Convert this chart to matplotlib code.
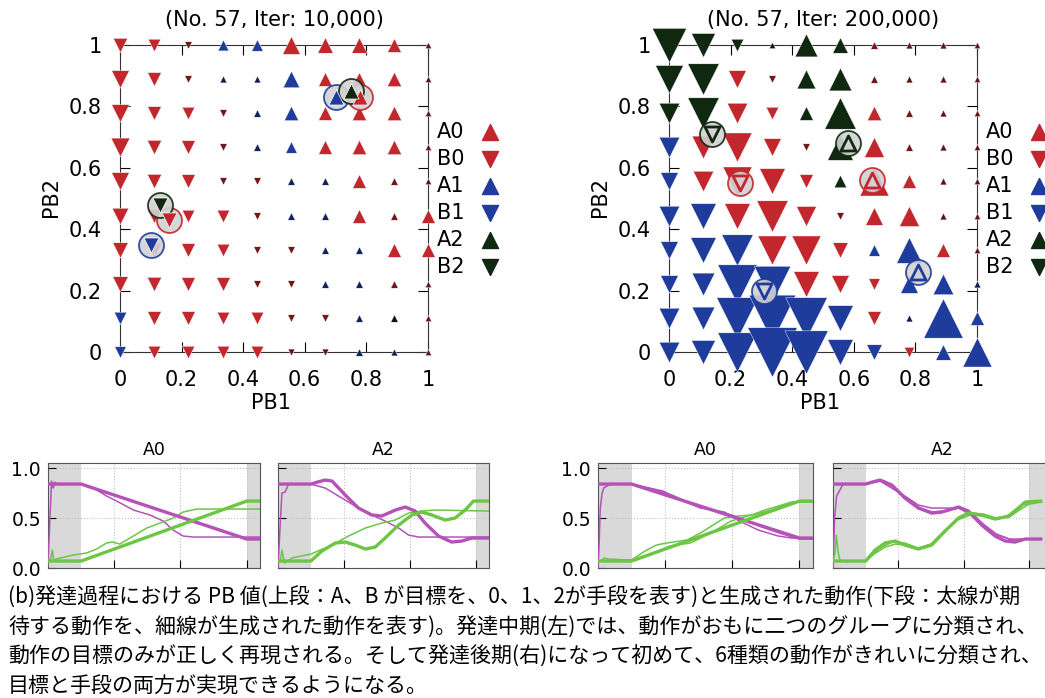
import matplotlib
matplotlib.use('Agg')
import matplotlib.pyplot as plt
import numpy as np
from matplotlib.colors import to_rgb

# grid of PB values (rows listed from PB2=1 down to PB2=0)
pb = np.linspace(0, 1, 10)
classes = ["A0", "B0", "A1", "B1", "A2", "B2"]

left_cls = [
    ["B0", "B0", "B0", "A1", "A1", "A0", "A0", "A0", "A0", "A0"],
    ["B0", "B0", "B0", "A1", "A1", "A1", "A0", "A0", "A0", "A0"],
    ["B0", "B0", "B0", "B0", "A1", "A1", "A0", "A0", "A0", "A0"],
    ["B0", "B0", "B0", "B0", "A1", "A1", "A0", "A0", "A0", "A0"],
    ["B0", "B0", "B0", "B0", "B0", "A1", "A1", "A0", "A0", "A0"],
    ["B0", "B0", "B0", "B0", "B0", "A1", "A1", "A0", "A0", "A0"],
    ["B0", "B0", "B0", "B0", "B0", "B0", "A1", "A1", "A0", "A0"],
    ["B0", "B0", "B0", "B0", "B0", "B0", "A1", "A1", "A0", "A0"],
    ["B1", "B0", "B0", "B0", "B0", "B0", "B0", "A1", "A2", "A0"],
    ["B1", "B0", "B0", "B0", "B0", "B0", "B0", "A1", "A1", "A0"],
]
left_w = [
    [2.5, 2.2, 1.3, 1.9, 2.0, 3.1, 2.7, 2.7, 2.4, 1.1],
    [3.1, 2.4, 1.3, 1.2, 1.2, 2.9, 2.4, 2.4, 2.5, 1.1],
    [3.1, 2.4, 2.2, 1.3, 1.3, 2.5, 2.4, 2.5, 2.5, 1.1],
    [3.3, 2.5, 2.4, 1.3, 1.3, 2.0, 2.4, 2.5, 2.5, 1.1],
    [3.1, 2.5, 2.4, 1.3, 1.3, 1.3, 1.3, 2.4, 1.3, 1.1],
    [2.9, 2.4, 2.2, 2.2, 1.3, 1.3, 1.3, 2.4, 1.3, 2.4],
    [2.7, 2.4, 2.4, 2.2, 1.3, 1.3, 1.3, 1.3, 2.4, 2.4],
    [2.7, 2.5, 2.4, 2.4, 1.3, 1.3, 1.3, 1.3, 1.3, 1.1],
    [2.2, 2.4, 2.4, 2.2, 2.2, 1.3, 1.3, 1.3, 1.3, 1.1],
    [2.0, 2.2, 2.2, 2.2, 2.2, 1.2, 1.2, 1.3, 1.2, 1.1],
]
left_mean_cls = ["A1", "A0", "A2", "B1", "B0", "B2"]
left_mean_x = [0.70, 0.78, 0.75, 0.10, 0.16, 0.13]
left_mean_y = [0.83, 0.83, 0.85, 0.35, 0.43, 0.48]

right_cls = [
    ["B2", "B2", "B2", "A2", "A2", "A2", "A0", "A0", "A0", "A0"],
    ["B2", "B2", "B0", "B0", "A2", "A2", "A0", "A0", "A0", "A0"],
    ["B2", "B2", "B0", "B0", "A2", "A2", "A0", "A0", "A0", "A0"],
    ["B1", "B0", "B0", "B0", "B0", "A2", "A0", "A0", "A0", "A0"],
    ["B1", "B0", "B0", "B0", "B0", "A2", "A0", "A0", "A0", "A0"],
    ["B1", "B1", "B0", "B0", "B0", "B0", "A0", "A0", "A0", "A0"],
    ["B1", "B1", "B1", "B0", "B0", "B0", "A1", "A1", "A0", "A0"],
    ["B1", "B1", "B1", "B1", "B0", "B0", "B0", "A1", "A1", "A1"],
    ["B1", "B1", "B1", "B1", "B1", "B1", "B0", "A1", "A1", "A1"],
    ["B1", "B1", "B1", "B1", "B1", "B1", "B1", "B0", "A1", "A1"],
]
right_w = [
    [6.0, 4.2, 2.2, 1.1, 4.0, 2.7, 1.3, 1.2, 1.2, 1.1],
    [4.9, 5.5, 3.1, 1.3, 3.3, 4.0, 1.3, 1.2, 1.2, 1.1],
    [3.6, 5.5, 3.6, 2.2, 2.4, 5.5, 2.5, 1.3, 1.2, 1.1],
    [3.6, 4.0, 5.1, 3.1, 1.3, 4.5, 3.5, 1.3, 1.2, 1.1],
    [3.1, 3.6, 5.1, 4.5, 2.4, 2.2, 5.1, 2.4, 1.2, 1.1],
    [3.6, 4.5, 4.5, 5.5, 3.5, 1.3, 3.1, 3.5, 1.2, 1.1],
    [3.1, 4.5, 5.5, 5.1, 5.1, 2.7, 2.0, 4.5, 2.4, 1.1],
    [3.1, 4.0, 6.9, 6.4, 4.5, 3.1, 2.0, 3.1, 3.6, 1.2],
    [3.6, 4.0, 7.3, 8.2, 7.3, 4.5, 2.4, 1.2, 6.9, 2.4],
    [3.6, 4.2, 6.9, 8.7, 7.6, 4.5, 2.7, 1.8, 2.7, 5.1],
]
right_mean_cls = ["B2", "A2", "B0", "A0", "B1", "A1"]
right_mean_x = [0.14, 0.58, 0.23, 0.66, 0.31, 0.81]
right_mean_y = [0.71, 0.68, 0.55, 0.56, 0.20, 0.26]

# motion curves (x: time step, y: value)
la0_thick_x = [0, 10, 60, 64]
la0_thick_p = [0.84, 0.84, 0.29, 0.29]
la0_thick_g = [0.07, 0.07, 0.67, 0.67]
la0_thin_px = [0, 0.6, 1.1, 1.6, 2.1, 2.7, 10, 14, 17.7, 20.7, 25.8, 30.8, 34.8, 37.8, 40.8, 43.9, 64]
la0_thin_py = [0.02, 0.5, 0.87, 0.80, 0.86, 0.84, 0.84, 0.795, 0.72, 0.67, 0.58, 0.53, 0.47, 0.38, 0.32, 0.31, 0.31]
la0_thin_gx = [0, 0.8, 1.3, 1.8, 2.5, 3.7, 7.6, 11.6, 14.7, 17.7, 19.4, 21.7, 25.8, 29.8, 33.8, 37.8, 40.8, 44.9, 64]
la0_thin_gy = [0.07, 0.08, 0.18, 0.07, 0.09, 0.10, 0.13, 0.15, 0.19, 0.25, 0.26, 0.24, 0.32, 0.40, 0.45, 0.50, 0.56, 0.59, 0.59]

la2_thick_px = [0, 10, 12, 14.3, 16.4, 20.4, 24.4, 28.5, 31.5, 35.6, 38.6, 41.6, 44.6, 48.7, 52.7, 55.8, 58.8, 64]
la2_thick_py = [0.84, 0.84, 0.86, 0.88, 0.87, 0.73, 0.60, 0.53, 0.52, 0.58, 0.61, 0.57, 0.45, 0.32, 0.26, 0.27, 0.30, 0.30]
la2_thin_px = [0, 0.7, 1.2, 2.2, 3.2, 10, 14.3, 19.4, 24.4, 28.5, 32.5, 36.6, 39.6, 42.6, 64]
la2_thin_py = [0.0, 0.45, 0.75, 0.76, 0.84, 0.84, 0.80, 0.70, 0.60, 0.53, 0.47, 0.40, 0.33, 0.31, 0.31]
la2_thick_gx = [0, 10, 13.3, 17.4, 20.4, 23.4, 26.5, 29.5, 32.5, 36.6, 40.6, 43.6, 46.7, 50.7, 53.7, 56.8, 59.3, 64]
la2_thick_gy = [0.07, 0.07, 0.17, 0.25, 0.26, 0.23, 0.19, 0.21, 0.30, 0.43, 0.53, 0.56, 0.53, 0.48, 0.50, 0.58, 0.67, 0.67]
la2_thin_gx = [0, 0.8, 1.2, 2.0, 4.2, 10, 16.4, 21.4, 26.5, 31.5, 35.6, 39.6, 43.6, 47.6, 64]
la2_thin_gy = [0.07, 0.08, 0.18, 0.05, 0.10, 0.14, 0.23, 0.32, 0.40, 0.45, 0.48, 0.55, 0.57, 0.58, 0.57]

ra0_thick_x = [0, 10, 60, 64]
ra0_thick_p = [0.84, 0.84, 0.30, 0.30]
ra0_thick_g = [0.07, 0.07, 0.67, 0.67]
ra0_thin1_px = [0, 0.3, 0.7, 1.2, 1.7, 3.2, 5, 10, 14, 19.4, 25.4, 30.5, 37.6, 41.6, 47.7, 53.7, 57.7, 64]
ra0_thin1_py = [0.0, 0.2, 0.6, 0.74, 0.80, 0.83, 0.84, 0.84, 0.81, 0.77, 0.67, 0.60, 0.56, 0.48, 0.38, 0.32, 0.30, 0.30]
ra0_thin2_px = [10, 16, 22, 28, 33, 38, 43, 48, 54, 60, 64]
ra0_thin2_py = [0.84, 0.79, 0.73, 0.64, 0.59, 0.55, 0.49, 0.42, 0.35, 0.29, 0.29]
ra0_thin1_gx = [0, 1, 1.8, 3, 10, 14, 17.4, 20.4, 26.5, 30.5, 37.6, 41.6, 45.7, 49.7, 57.7, 64]
ra0_thin1_gy = [0.07, 0.07, 0.10, 0.09, 0.08, 0.17, 0.23, 0.25, 0.28, 0.35, 0.50, 0.52, 0.53, 0.58, 0.66, 0.67]
ra0_thin2_gx = [10, 15, 21.4, 27.5, 33.6, 39.6, 44.6, 51.7, 58, 64]
ra0_thin2_gy = [0.08, 0.13, 0.22, 0.25, 0.35, 0.47, 0.52, 0.58, 0.66, 0.66]

ra2_thick_px = [0, 10, 12, 14.4, 18, 22, 26.1, 30.2, 33.3, 38.4, 41.4, 45.5, 49.6, 52.7, 55.7, 58.8, 64]
ra2_thick_py = [0.84, 0.84, 0.86, 0.88, 0.83, 0.70, 0.60, 0.55, 0.56, 0.61, 0.57, 0.43, 0.32, 0.27, 0.26, 0.29, 0.29]
ra2_thin1_px = [0, 0.5, 1.1, 3.1, 10, 14.4, 22, 26.1, 30.2, 38.4, 42.4, 48.6, 54.7, 58.8, 64]
ra2_thin1_py = [0.0, 0.5, 0.72, 0.84, 0.84, 0.87, 0.72, 0.63, 0.60, 0.60, 0.53, 0.35, 0.28, 0.29, 0.29]
ra2_thin2_px = [10, 14.4, 18, 22, 26.1, 30.2, 34, 38.4, 42, 46, 50, 54, 58.8, 64]
ra2_thin2_py = [0.84, 0.87, 0.82, 0.71, 0.61, 0.56, 0.57, 0.60, 0.56, 0.44, 0.34, 0.29, 0.29, 0.29]
ra2_thick_gx = [0, 10, 12.9, 15.9, 19, 22, 26.1, 30.2, 34.3, 38.4, 41.4, 45.5, 49.6, 53.7, 56.7, 58.8, 64]
ra2_thick_gy = [0.07, 0.07, 0.18, 0.25, 0.27, 0.23, 0.19, 0.23, 0.37, 0.50, 0.55, 0.53, 0.49, 0.52, 0.60, 0.66, 0.67]
ra2_thin1_gx = [0, 0.6, 1.0, 1.6, 2.2, 10, 13, 16, 19, 22, 26, 30, 34, 38, 42, 46, 50, 54, 57, 60, 64]
ra2_thin1_gy = [0.07, 0.15, 0.33, 0.15, 0.07, 0.07, 0.15, 0.21, 0.24, 0.23, 0.19, 0.24, 0.36, 0.48, 0.53, 0.52, 0.49, 0.51, 0.58, 0.64, 0.66]
ra2_thin2_gx = [10, 14, 18, 22, 26, 30, 34, 38, 42, 46, 50, 54, 58, 64]
ra2_thin2_gy = [0.07, 0.19, 0.26, 0.25, 0.20, 0.24, 0.37, 0.49, 0.55, 0.54, 0.50, 0.52, 0.63, 0.67]

caption = [
    "(b)発達過程における PB 値(上段：A、B が目標を、0、1、2が手段を表す)と生成された動作(下段：太線が期",
    "待する動作を、細線が生成された動作を表す)。発達中期(左)では、動作がおもに二つのグループに分類され、",
    "動作の目標のみが正しく再現される。そして発達後期(右)になって初めて、6種類の動作がきれいに分類され、",
    "目標と手段の両方が実現できるようになる。",
]

COL = {"A0": "#c1272d", "B0": "#c1272d", "A1": "#1f3c9c", "B1": "#1f3c9c",
       "A2": "#10280f", "B2": "#10280f"}
MK = {"A0": "^", "B0": "v", "A1": "^", "B1": "v", "A2": "^", "B2": "v"}
PURPLE = "#b452b8"
GREEN = "#6cc644"
FS = 15


def shade(k, w):
    f = np.clip(0.5 + 0.5 * (w - 1.2) / 0.6, 0.5, 1.0)
    return tuple(np.array(to_rgb(COL[k])) * f)


def draw_map(ax, cls, wts, mcls, mx, my, title, hollow):
    for r in range(10):
        for c in range(10):
            k = cls[r][c]
            w = wts[r][c]
            ax.scatter(pb[c], pb[9 - r], s=(4.1 * w) ** 2, marker=MK[k],
                       color=shade(k, w), edgecolors="white", linewidths=0.3,
                       clip_on=False, zorder=3)
    for k, x, y in zip(mcls, mx, my):
        ax.scatter(x, y, s=(0.72 * 25) ** 2, marker="o", facecolor="#d2d2d2",
                   edgecolors=COL[k], linewidths=1.3, alpha=0.9, zorder=5, clip_on=False)
        if hollow:
            ax.scatter(x, y, s=(0.72 * 15) ** 2, marker=MK[k], facecolor="#d2d2d2",
                       edgecolors=COL[k], linewidths=2, zorder=6, clip_on=False)
        else:
            ax.scatter(x, y, s=(0.72 * 15) ** 2, marker=MK[k], color=COL[k],
                       edgecolors="white", linewidths=0.5, zorder=6, clip_on=False)
    ax.set_xlim(0, 1)
    ax.set_ylim(0, 1)
    ticks = [0, 0.2, 0.4, 0.6, 0.8, 1]
    labs = ["0", "0.2", "0.4", "0.6", "0.8", "1"]
    ax.set_xticks(ticks)
    ax.set_xticklabels(labs)
    ax.set_yticks(ticks)
    ax.set_yticklabels(labs)
    ax.tick_params(direction="in", length=7, top=True, right=True, labelsize=FS)
    ax.tick_params(axis="x", pad=13)
    ax.tick_params(axis="y", pad=13)
    for sp in ax.spines.values():
        sp.set_color("#333333")
        sp.set_zorder(2)
    ax.text(0.5, 1.08, title, transform=ax.transAxes, ha="center", va="center", fontsize=FS)
    ax.text(0.49, -0.166, "PB1", transform=ax.transAxes, ha="center", va="center", fontsize=FS)
    ax.text(-0.225, 0.505, "PB2", transform=ax.transAxes, ha="center", va="center",
            rotation=90, fontsize=FS)
    for i, k in enumerate(classes):
        y = 0.717 - i * 0.088
        ax.text(1.03, y, k, transform=ax.transAxes, ha="left", va="center", fontsize=FS)
        ax.scatter(1.2, y, s=(0.72 * 16) ** 2, marker=MK[k], color=COL[k],
                   transform=ax.transAxes, clip_on=False, zorder=4)


def draw_act(ax, lines, title, ylabels, xmax):
    ax.axvspan(0, 10, color="#d9d9d9", lw=0, zorder=0)
    ax.axvspan(60, xmax, color="#d9d9d9", lw=0, zorder=0)
    for x, y, col, lw in lines:
        ax.plot(x, y, color=col, lw=lw, zorder=3, solid_capstyle="butt")
    ax.set_xlim(0, xmax)
    ax.set_ylim(0, 1.05)
    ax.set_xticks([20, 40, 60])
    ax.set_xticklabels([])
    ax.set_yticks([0, 0.5, 1.0])
    if ylabels:
        ax.set_yticklabels(["0.0", "0.5", "1.0"])
    else:
        ax.set_yticklabels([])
    ax.grid(True, ls=":", color="#c0c0c0", lw=0.8)
    ax.tick_params(direction="in", length=6, labelsize=13.5, pad=5)
    for sp in ax.spines.values():
        sp.set_color("#555555")
    ax.set_title(title, fontsize=12.5, pad=6)


fig = plt.figure(figsize=(10.45, 6.98), dpi=100)

ax1 = fig.add_axes([0.1148, 0.4957, 0.2947, 0.4398])
draw_map(ax1, left_cls, left_w, left_mean_cls, left_mean_x, left_mean_y,
         "(No. 57, Iter: 10,000)", False)
ax2 = fig.add_axes([0.6402, 0.4957, 0.2947, 0.4398])
draw_map(ax2, right_cls, right_w, right_mean_cls, right_mean_x, right_mean_y,
         "(No. 57, Iter: 200,000)", True)

TH, TN = 2.4, 1.1
b1 = fig.add_axes([0.0459, 0.1862, 0.2029, 0.1504])
draw_act(b1, [(la0_thin_px, la0_thin_py, PURPLE, TN), (la0_thin_gx, la0_thin_gy, GREEN, TN),
              (la0_thick_x, la0_thick_p, PURPLE, TH), (la0_thick_x, la0_thick_g, GREEN, TH)],
         "A0", True, 64)
b2 = fig.add_axes([0.266, 0.1862, 0.2019, 0.1504])
draw_act(b2, [(la2_thin_px, la2_thin_py, PURPLE, TN), (la2_thin_gx, la2_thin_gy, GREEN, TN),
              (la2_thick_px, la2_thick_py, PURPLE, TH), (la2_thick_gx, la2_thick_gy, GREEN, TH)],
         "A2", False, 64)
b3 = fig.add_axes([0.5722, 0.1862, 0.2057, 0.1504])
draw_act(b3, [(ra0_thin1_px, ra0_thin1_py, PURPLE, TN), (ra0_thin2_px, ra0_thin2_py, PURPLE, TN),
              (ra0_thin1_gx, ra0_thin1_gy, GREEN, TN), (ra0_thin2_gx, ra0_thin2_gy, GREEN, TN),
              (ra0_thick_x, ra0_thick_p, PURPLE, TH), (ra0_thick_x, ra0_thick_g, GREEN, TH)],
         "A0", True, 64)
# last panel runs past the right edge of the figure, as in the original
b4 = fig.add_axes([833 / 1045, 0.1862, 219 / 1045, 0.1504])
draw_act(b4, [(ra2_thin1_px, ra2_thin1_py, PURPLE, TN), (ra2_thin2_px, ra2_thin2_py, PURPLE, TN),
              (ra2_thin1_gx, ra2_thin1_gy, GREEN, TN), (ra2_thin2_gx, ra2_thin2_gy, GREEN, TN),
              (ra2_thick_px, ra2_thick_py, PURPLE, TH), (ra2_thick_gx, ra2_thick_gy, GREEN, TH)],
         "A2", False, 67)

for i, line in enumerate(caption):
    fig.text(8 / 1045, 1 - (598 + i * 29.5) / 698, line, fontsize=15.1,
             family=["Noto Sans CJK JP", "DejaVu Sans"], ha="left", va="center")

fig.savefig("out.png", dpi=100)
